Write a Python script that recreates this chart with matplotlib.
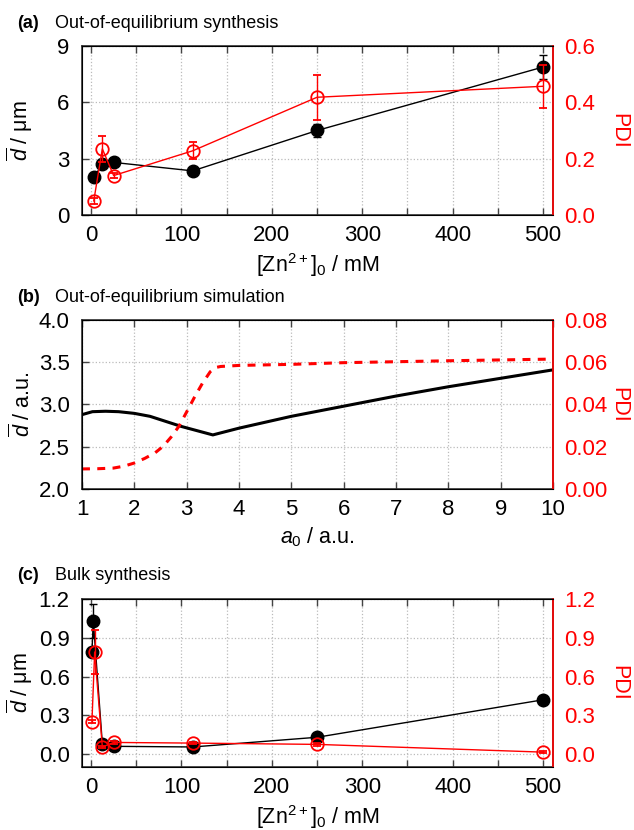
import numpy as np
import matplotlib
matplotlib.use('Agg')
import matplotlib.pyplot as plt
from matplotlib.ticker import MultipleLocator, FormatStrFormatter

# data
# (a) out-of-equilibrium synthesis
conc_a = [3, 12.5, 25, 112.5, 250, 500]
d_a = [2.0, 2.7, 2.8, 2.35, 4.5, 7.88]
d_a_err = [0.05, 0.1, 0.05, 0.05, 0.35, 0.65]
pdi_a = [0.05, 0.235, 0.14, 0.228, 0.418, 0.457]
pdi_a_err = [0.01, 0.047, 0.01, 0.03, 0.08, 0.077]

# (b) simulation
a0_d = [1.0, 1.2, 1.45, 1.7, 2.0, 2.3, 2.6, 2.9, 3.2, 3.5, 4.0, 5.0, 6.0, 7.0, 8.0, 9.0, 10.0]
d_sim = [2.88, 2.915, 2.92, 2.915, 2.895, 2.86, 2.8, 2.74, 2.69, 2.64, 2.72, 2.86, 2.98, 3.1, 3.21, 3.31, 3.41]
a0_pdi = [1.0, 1.3, 1.6, 1.8, 2.0, 2.2, 2.4, 2.55, 2.7, 2.85, 3.0, 3.15, 3.3, 3.45, 3.55, 3.65, 4.0, 5.0, 6.0, 8.0, 10.0]
pdi_sim = [0.0095, 0.0096, 0.0099, 0.0108, 0.0123, 0.0145, 0.0172, 0.0202, 0.0245, 0.0296, 0.0365, 0.0435, 0.050, 0.0555, 0.0575, 0.058, 0.0585, 0.059, 0.0598, 0.0607, 0.0615]

# (c) bulk synthesis
conc_c = [1, 2.5, 12.5, 25, 112.5, 250, 500]
d_c = [0.79, 1.03, 0.08, 0.06, 0.055, 0.13, 0.42]
d_c_err = [0.03, 0.13, 0.01, 0.01, 0.01, 0.01, 0.01]
conc_c_pdi = [1, 4, 12.5, 25, 112.5, 250, 500]
pdi_c = [0.25, 0.79, 0.055, 0.09, 0.085, 0.075, 0.015]
pdi_c_err = [0.01, 0.17, 0.01, 0.01, 0.01, 0.01, 0.005]

plt.rcParams['font.family'] = ['Liberation Sans', 'DejaVu Sans']
plt.rcParams['mathtext.fontset'] = 'custom'
plt.rcParams['mathtext.rm'] = 'Liberation Sans'
plt.rcParams['mathtext.it'] = 'Liberation Sans:italic'
plt.rcParams['mathtext.bf'] = 'Liberation Sans:bold'

W, H = 634, 830
TICK = 16
LAB = 15.5
fig = plt.figure(figsize=(W / 100, H / 100), dpi=100)


def make_axes(top, bottom):
    ax = fig.add_axes([82 / W, 1 - bottom / H, (553 - 82) / W, (bottom - top) / H])
    ax.tick_params(direction='in', length=5, width=1, top=True, right=True,
                   labelsize=TICK, color='#444444')
    ax.tick_params(axis='x', pad=7)
    ax.tick_params(axis='y', pad=9)
    ax.tick_params(which='minor', direction='in', length=5, width=1, top=True, color='#444444')
    for s in ax.spines.values():
        s.set_linewidth(1.2)
        s.set_color('#333333')
    ax.grid(True, which='both', axis='x', linestyle=':', color='#bbbbbb', linewidth=0.9)
    ax.grid(True, which='major', axis='y', linestyle=':', color='#bbbbbb', linewidth=0.9)
    ax.set_axisbelow(True)
    ax2 = ax.twinx()
    ax2.spines['right'].set_color('red')
    ax2.spines['right'].set_linewidth(1.2)
    ax2.tick_params(axis='y', length=0, colors='red', labelsize=TICK, pad=8)
    ax2.set_ylabel('PDI', color='red', fontsize=LAB, rotation=270, va='center')
    ax2.yaxis.set_label_coords(1.14, 0.5)
    ax.yaxis.set_label_coords(-0.10, 0.5)
    return ax, ax2


def panel_title(y, letter, text):
    fig.text(17 / W, 1 - y / H, letter, fontsize=13, fontweight='bold', va='center')
    fig.text(55 / W, 1 - y / H, text, fontsize=13, va='center')


dlabel_um = r'$\overline{d}$ / μm'
xlabel_zn = r'[Zn$^{2+}$]$_0$ / mM'

# (a)
ax, ax2 = make_axes(46, 215)
ax.errorbar(conc_a, d_a, yerr=d_a_err, color='black', marker='o', markersize=9,
            lw=1.0, capsize=3, elinewidth=1, zorder=3)
ax2.errorbar(conc_a, pdi_a, yerr=pdi_a_err, color='red', marker='o', markersize=9,
             markerfacecolor='none', mew=1.3, lw=1.0, capsize=3, elinewidth=1)
ax.set_xlim(-10, 511)
ax.set_ylim(0, 9)
ax2.set_ylim(0, 0.6)
ax.xaxis.set_major_locator(MultipleLocator(100))
ax.xaxis.set_minor_locator(MultipleLocator(50))
ax.yaxis.set_major_locator(MultipleLocator(3))
ax2.yaxis.set_major_locator(MultipleLocator(0.2))
ax2.yaxis.set_major_formatter(FormatStrFormatter('%.1f'))
ax.set_xlabel(xlabel_zn, fontsize=LAB, labelpad=4)
ax.set_ylabel(dlabel_um, fontsize=LAB)
panel_title(23, '(a)', 'Out-of-equilibrium synthesis')

# (b)
ax, ax2 = make_axes(320, 489)
ax.plot(a0_d, d_sim, color='black', lw=2.2)
ax2.plot(a0_pdi, pdi_sim, color='red', lw=2.2, dashes=(2.6, 2.4))
ax.set_xlim(1, 10)
ax.set_ylim(2, 4)
ax2.set_ylim(0, 0.08)
ax.xaxis.set_major_locator(MultipleLocator(1))
ax.yaxis.set_major_locator(MultipleLocator(0.5))
ax.yaxis.set_major_formatter(FormatStrFormatter('%.1f'))
ax2.yaxis.set_major_locator(MultipleLocator(0.02))
ax2.yaxis.set_major_formatter(FormatStrFormatter('%.2f'))
ax.set_xlabel(r'$a_0$ / a.u.', fontsize=LAB, labelpad=4)
ax.set_ylabel(r'$\overline{d}$ / a.u.', fontsize=LAB)
panel_title(297, '(b)', 'Out-of-equilibrium simulation')

# (c)
ax, ax2 = make_axes(599, 767)
ax.errorbar(conc_c, d_c, yerr=d_c_err, color='black', marker='o', markersize=9,
            lw=1.0, capsize=3, elinewidth=1, zorder=3)
ax2.errorbar(conc_c_pdi, pdi_c, yerr=pdi_c_err, color='red', marker='o', markersize=9,
             markerfacecolor='none', mew=1.3, lw=1.0, capsize=3, elinewidth=1)
ax.set_xlim(-10, 511)
ax.set_ylim(-0.1, 1.2)
ax2.set_ylim(-0.1, 1.2)
ax.xaxis.set_major_locator(MultipleLocator(100))
ax.xaxis.set_minor_locator(MultipleLocator(50))
ax.yaxis.set_major_locator(MultipleLocator(0.3))
ax.yaxis.set_major_formatter(FormatStrFormatter('%.1f'))
ax2.yaxis.set_major_locator(MultipleLocator(0.3))
ax2.yaxis.set_major_formatter(FormatStrFormatter('%.1f'))
ax.set_xlabel(xlabel_zn, fontsize=LAB, labelpad=4)
ax.set_ylabel(dlabel_um, fontsize=LAB)
panel_title(575, '(c)', 'Bulk synthesis')

fig.savefig('out.png', dpi=100)
